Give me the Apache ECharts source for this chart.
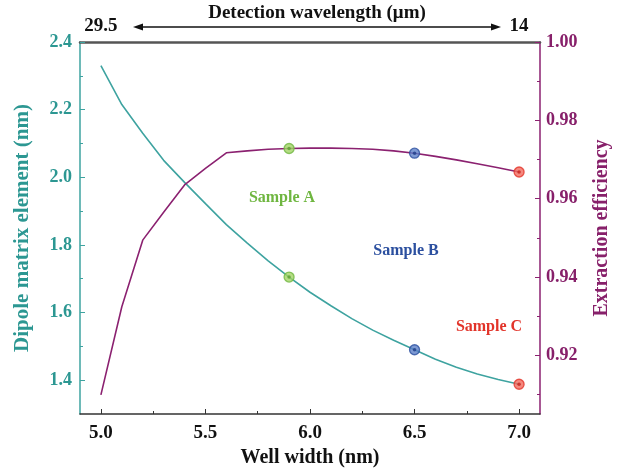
<!DOCTYPE html>
<html>
<head>
<meta charset="utf-8">
<script src="https://cdn.jsdelivr.net/npm/echarts@6/dist/echarts.min.js"></script>
<style>html,body{margin:0;padding:0;background:#fff}#c{width:631px;height:475px}</style>
</head>
<body>
<div id="c"></div>
<script>
// ---- data ----
var wellWidth = [5.0,5.1,5.2,5.3,5.4,5.5,5.6,5.7,5.8,5.9,6.0,6.1,6.2,6.3,6.4,6.5,6.6,6.7,6.8,6.9,7.0];
var dipole = [2.330,2.215,2.130,2.050,1.985,1.922,1.860,1.805,1.753,1.705,1.660,1.620,1.582,1.548,1.518,1.490,1.462,1.438,1.418,1.402,1.388];
var efficiency = [0.9099,0.9324,0.9494,0.9565,0.9635,0.9677,0.9717,0.9722,0.9726,0.9728,0.9729,0.9729,0.9728,0.9726,0.9722,0.9716,0.9708,0.9699,0.9689,0.9679,0.9668];
var sampleNames = ['Sample A','Sample B','Sample C'];
var sampleX = [5.9,6.5,7.0];
var sampleDipole = [1.705,1.490,1.388];
var sampleEff = [0.9728,0.9716,0.9668];
var xMajor = [5.0,5.5,6.0,6.5,7.0];
var xMinor = [5.25,5.75,6.25,6.75];
var yLeftMajor = [1.4,1.6,1.8,2.0,2.2,2.4];
var yLeftMinor = [1.5,1.7,1.9,2.1,2.3];
var yRightMajor = [0.92,0.94,0.96,0.98,1.00];
var yRightMinor = [0.91,0.93,0.95,0.97,0.99];
var topTickValues = [5.0,7.0];
var topTickLabels = ['29.5','14'];

// ---- styles ----
var TEAL = '#3ea3a0', TEAL_TXT = '#2c9792';
var PURP = '#8b2170', PURP_TXT = '#87206a';
var sampleFill = ['#a2d465','#5d7fc8','#f26a5e'];
var sampleEdge = ['#6fb640','#2b4f9f','#e2342a'];
var sampleDot = ['#5c9f33','#1f3d88','#c4231b'];
var FONT = '"Liberation Serif", "Times New Roman", serif';

var chart = echarts.init(document.getElementById('c'), null, {renderer:'canvas'});

function xy(xs, ys){ return xs.map(function(x,i){ return [x, ys[i]]; }); }
function colored(xs, ys, colors, edges){
  return xs.map(function(x,i){ return {value:[x, ys[i]], itemStyle:{color:colors[i], borderColor: edges ? edges[i] : colors[i], borderWidth: edges ? 1.3 : 0}}; });
}

var option = {
  animation:false,
  backgroundColor:'#fff',
  title:{text:'Detection wavelength (μm)', left:312, textAlign:'center', top:-1,
    textStyle:{fontFamily:FONT, fontWeight:'bold', fontSize:19, color:'#111'}},
  grid:{left:80, right:91, top:42, bottom:61, containLabel:false},
  xAxis:[
    {type:'value', position:'bottom', min:4.9, max:7.1,
     axisLine:{lineStyle:{color:'#333', width:1.5}},
     axisTick:{inside:true, length:5, customValues:xMajor, lineStyle:{color:'#333'}},
     axisLabel:{customValues:xMajor, margin:10, formatter:function(v){return v.toFixed(1);},
       fontFamily:FONT, fontWeight:'bold', fontSize:19, color:'#111'},
     splitLine:{show:false},
     name:'Well width (nm)', nameLocation:'middle', nameGap:33,
     nameTextStyle:{fontFamily:FONT, fontWeight:'bold', fontSize:20, color:'#111'}},
    {type:'value', position:'bottom', min:4.9, max:7.1,
     axisLine:{show:false},
     axisTick:{inside:true, length:3, customValues:xMinor, lineStyle:{color:'#333'}},
     axisLabel:{show:false}, splitLine:{show:false}},
    {type:'value', position:'top', min:4.9, max:7.1,
     axisLine:{lineStyle:{color:'#555', width:2.5}},
     axisTick:{show:false},
     axisLabel:{customValues:topTickValues, margin:6,
       formatter:function(v){var i=topTickValues.indexOf(v); return i>=0?topTickLabels[i]:'';},
       fontFamily:FONT, fontWeight:'bold', fontSize:19, color:'#111'},
     splitLine:{show:false}}
  ],
  yAxis:[
    {type:'value', position:'left', min:1.3, max:2.4,
     axisLine:{lineStyle:{color:TEAL, width:1.5}},
     axisTick:{inside:true, length:5, customValues:yLeftMajor, lineStyle:{color:TEAL}},
     axisLabel:{customValues:yLeftMajor, margin:8, formatter:function(v){return v.toFixed(1);},
       fontFamily:FONT, fontWeight:'bold', fontSize:18, color:TEAL_TXT},
     splitLine:{show:false},
     name:'Dipole matrix element (nm)', nameLocation:'middle', nameGap:47, nameRotate:90,
     nameTextStyle:{fontFamily:FONT, fontWeight:'bold', fontSize:21, color:TEAL_TXT}},
    {type:'value', position:'left', min:1.3, max:2.4,
     axisLine:{show:false},
     axisTick:{inside:true, length:3, customValues:yLeftMinor, lineStyle:{color:TEAL}},
     axisLabel:{show:false}, splitLine:{show:false}},
    {type:'value', position:'right', min:0.905, max:1.0,
     axisLine:{lineStyle:{color:PURP, width:1.5}},
     axisTick:{inside:true, length:5, customValues:yRightMajor, lineStyle:{color:PURP}},
     axisLabel:{customValues:yRightMajor, margin:6, formatter:function(v){return v.toFixed(2);},
       fontFamily:FONT, fontWeight:'bold', fontSize:18, color:PURP_TXT},
     splitLine:{show:false},
     name:'Extraction efficiency', nameLocation:'middle', nameGap:52, nameRotate:90,
     nameTextStyle:{fontFamily:FONT, fontWeight:'bold', fontSize:20, color:PURP_TXT}},
    {type:'value', position:'right', min:0.905, max:1.0,
     axisLine:{show:false},
     axisTick:{inside:true, length:3, customValues:yRightMinor, lineStyle:{color:PURP}},
     axisLabel:{show:false}, splitLine:{show:false}}
  ],
  series:[
    {type:'line', xAxisIndex:0, yAxisIndex:0, data:xy(wellWidth, dipole), showSymbol:false,
     lineStyle:{color:TEAL, width:1.6}, z:2},
    {type:'line', xAxisIndex:0, yAxisIndex:2, data:xy(wellWidth, efficiency), showSymbol:false,
     lineStyle:{color:PURP, width:1.6}, z:2},
    {type:'scatter', xAxisIndex:0, yAxisIndex:0, symbol:'circle', symbolSize:10,
     data:colored(sampleX, sampleDipole, sampleFill, sampleEdge), z:3},
    {type:'scatter', xAxisIndex:0, yAxisIndex:2, symbol:'circle', symbolSize:10,
     data:colored(sampleX, sampleEff, sampleFill, sampleEdge), z:3},
    {type:'scatter', xAxisIndex:0, yAxisIndex:0, symbol:'circle', symbolSize:3.5,
     data:colored(sampleX, sampleDipole, sampleDot), z:4},
    {type:'scatter', xAxisIndex:0, yAxisIndex:2, symbol:'circle', symbolSize:3.5,
     data:colored(sampleX, sampleEff, sampleDot), z:4}
  ],
  graphic:[
    {type:'line', shape:{x1:138, y1:27, x2:496, y2:27}, style:{stroke:'#111', lineWidth:1.3}},
    {type:'polygon', shape:{points:[[133,27],[143,23.5],[143,30.5]]}, style:{fill:'#111'}},
    {type:'polygon', shape:{points:[[501,27],[491,23.5],[491,30.5]]}, style:{fill:'#111'}},
    {type:'text', x:282, y:198, style:{text:sampleNames[0], x:0, y:0, align:'center', verticalAlign:'middle',
      font:'bold 16px ' + FONT, fill:sampleEdge[0]}},
    {type:'text', x:406, y:251, style:{text:sampleNames[1], x:0, y:0, align:'center', verticalAlign:'middle',
      font:'bold 16px ' + FONT, fill:sampleEdge[1]}},
    {type:'text', x:489, y:327, style:{text:sampleNames[2], x:0, y:0, align:'center', verticalAlign:'middle',
      font:'bold 16px ' + FONT, fill:sampleEdge[2]}}
  ]
};
chart.setOption(option);
</script>
</body>
</html>
